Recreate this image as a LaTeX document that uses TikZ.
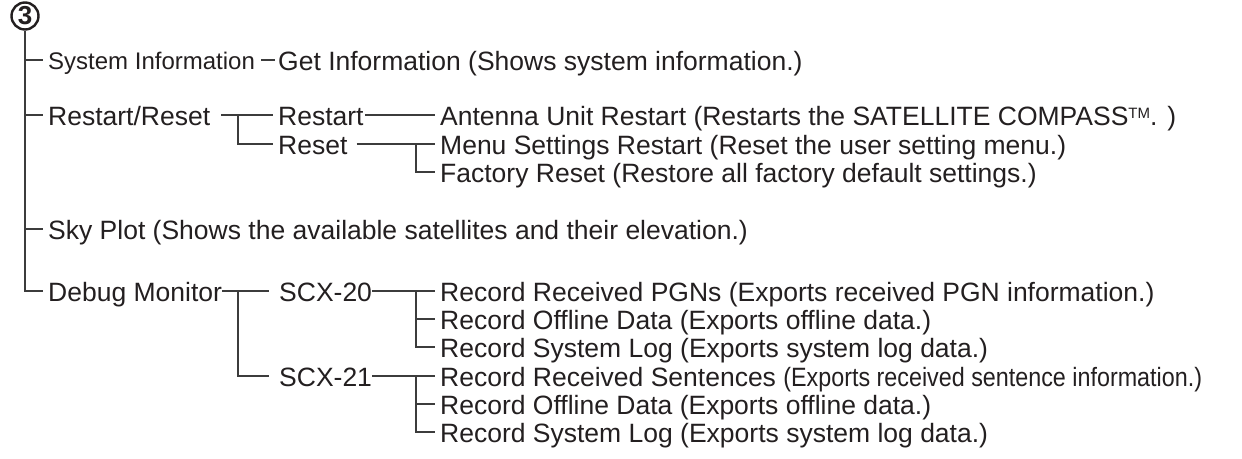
\documentclass[tikz,border=0pt]{standalone}
\usepackage{fontspec}
\usepackage{graphicx}
\setmainfont{Liberation Sans}
\definecolor{ink}{HTML}{231F20}
\definecolor{linec}{HTML}{3C3C3C}
\begin{document}
\begin{tikzpicture}[x=1pt,y=-1pt,
  txt/.style={anchor=west, inner xsep=5pt, inner ysep=0pt, text height=20pt, text depth=0pt,
              font=\fontsize{26.5}{28}\selectfont, text=ink},
  smalltxt/.style={txt, text height=18pt, font=\fontsize{24}{26}\selectfont},
  conn/.style={draw=linec, line width=1.4pt},
]
\useasboundingbox (0,0) rectangle (1242,458);
\node[circle, draw=ink, line width=2.4pt, inner sep=0pt, minimum size=27pt, text=ink,
      font=\bfseries\fontsize{26}{26}\selectfont] (c3) at (25,16) {3};
% level 1
\node[smalltxt] (si)  at (43,60)  {System Information};
\node[txt]      (rr)  at (43,115) {Restart/Reset};
\node[txt]      (sky) at (43,229) {Sky Plot (Shows the available satellites and their elevation.)};
\node[txt]      (dm)  at (43,291) {Debug Monitor};
% level 2
\node[txt] (gi)    at (273,60)  {Get Information (Shows system information.)};
\node[txt] (rs)    at (273,115) {Restart};
\node[txt] (reset) at (273,144) {Reset};
\node[txt] (s20)   at (274,291) {SCX-20};
\node[txt] (s21)   at (274,376) {SCX-21};
% level 3
\node[txt] (au) at (435,115) {Antenna Unit Restart (Restarts the SATELLITE COMPASS\raisebox{7pt}{\fontsize{15}{15}\selectfont TM}. )};
\node[txt] (ms) at (435,144) {Menu Settings Restart (Reset the user setting menu.)};
\node[txt] (fr) at (435,172) {Factory Reset (Restore all factory default settings.)};
\node[txt] (a1) at (435,291) {Record Received PGNs (Exports received PGN information.)};
\node[txt] (a2) at (435,319) {Record Offline Data (Exports offline data.)};
\node[txt] (a3) at (435,347) {Record System Log (Exports system log data.)};
\node[txt] (b1) at (435,376) {Record Received Sentences \scalebox{0.88}[1]{(Exports received sentence information.)}};
\node[txt] (b2) at (435,404) {Record Offline Data (Exports offline data.)};
\node[txt] (b3) at (435,432) {Record System Log (Exports system log data.)};
% junction columns
\coordinate (j1) at (238,0);
\coordinate (j2) at (416,0);
% main trunk
\draw[conn] (c3.south) |- (dm.west);
\foreach \n in {si,rr,sky} \draw[conn] (c3.south |- \n.west) -- (\n.west);
% system information
\draw[conn, shorten <=1pt, shorten >=-2pt] (si.east) -- (gi.west);
% restart / reset
\draw[conn, shorten <=6pt] (rr.east) -- (rs.west);
\draw[conn] (j1 |- rs.west) |- (reset.west);
\draw[conn, shorten <=-4pt] (rs.east) -- (au.west);
\draw[conn, shorten <=4pt] (reset.east) -- (ms.west);
\draw[conn] (j2 |- ms.west) |- (fr.west);
% debug monitor
\draw[conn, shorten <=-5pt, shorten >=5pt] (dm.east) -- (s20.west);
\draw[conn, shorten >=5pt] (j1 |- s20.west) |- (s21.west);
\draw[conn, shorten <=-5pt] (s20.east) -- (a1.west);
\draw[conn] (j2 |- a1.west) |- (a3.west);
\draw[conn] (j2 |- a2.west) -- (a2.west);
\draw[conn, shorten <=-5pt] (s21.east) -- (b1.west);
\draw[conn] (j2 |- b1.west) |- (b3.west);
\draw[conn] (j2 |- b2.west) -- (b2.west);
\end{tikzpicture}
\end{document}
